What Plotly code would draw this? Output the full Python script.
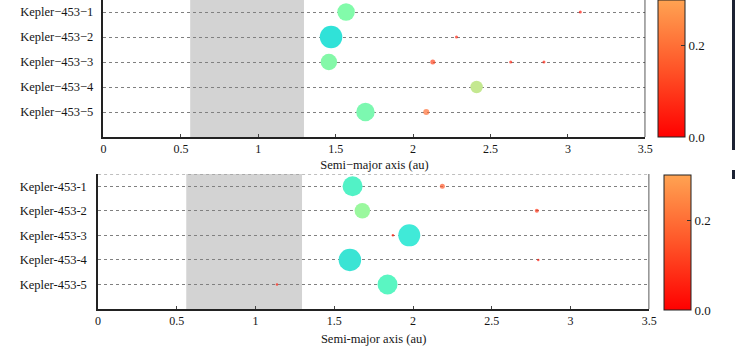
import plotly.graph_objects as go

W, H = 743, 349

# ---------------- data ----------------
rows_top = ["Kepler−453−1", "Kepler−453−2", "Kepler−453−3", "Kepler−453−4", "Kepler−453−5"]
rows_bot = ["Kepler-453-1", "Kepler-453-2", "Kepler-453-3", "Kepler-453-4", "Kepler-453-5"]
row_vals = [5, 4, 3, 2, 1]

# big (habitable-zone) planets
top_big_row = [5, 4, 3, 2, 1]
top_big_a = [1.567, 1.47, 1.456, 2.41, 1.692]
top_big_size = [17.5, 22.5, 16.5, 12.5, 18.5]
top_big_color = ["#82fbaa", "#30e2d8", "#84f8a8", "#c4e890", "#7cf8b0"]

bot_big_row = [5, 4, 3, 2, 1]
bot_big_a = [1.616, 1.678, 1.976, 1.599, 1.838]
bot_big_size = [20, 15.5, 22, 22.5, 20]
bot_big_color = ["#52f2c6", "#9af89e", "#40ead8", "#3ae4d4", "#5af6c2"]

# small planets coloured by eccentricity
top_small_row = [5, 4, 3, 3, 3, 1]
top_small_a = [3.08, 2.28, 2.127, 2.63, 2.845, 2.085]
top_small_e = [0.04, 0.06, 0.12, 0.06, 0.06, 0.2]
top_small_size = [3, 3, 5, 3, 3, 6]

bot_small_row = [5, 4, 3, 2, 1]
bot_small_a = [2.186, 2.786, 1.872, 2.795, 1.136]
bot_small_e = [0.16, 0.1, 0.05, 0.05, 0.05]
bot_small_size = [5, 4, 2.5, 2.5, 2.5]

hz_band = [0.56, 1.295]
x_ticks = [0, 0.5, 1, 1.5, 2, 2.5, 3, 3.5]
x_ticktext = ["0", "0.5", "1", "1.5", "2", "2.5", "3", "3.5"]
cbar_ticks = [0.0, 0.2]
cbar_ticktext = ["0.0", "0.2"]
e_max = 0.3

colorscale = [[0, "#ff0000"], [0.5, "#ff5528"], [1, "#ffa352"]]
FONT = "'Liberation Serif', 'Times New Roman', Times, serif"
TXT = "#151515"

# ---------------- layout geometry ----------------
top_px = dict(x0=102, x1=652, y0=-0.5, y1=137)
bot_px = dict(x0=96.5, x1=656, y0=174, y1=309)


def dom(p):
    return ([p["x0"] / W, p["x1"] / W], [1 - p["y1"] / H, 1 - max(p["y0"], 0) / H])


tx, ty = dom(top_px)
bx, by = dom(bot_px)
top_ymax = 5.5 - (0 - top_px["y0"]) / 25.0

fig = go.Figure()

for (big_row, big_a, big_size, big_color, s_row, s_a, s_e, s_size, xa, ya, cb_x, cb_y0, cb_y1) in [
    (top_big_row, top_big_a, top_big_size, top_big_color, top_small_row, top_small_a, top_small_e,
     top_small_size, "x", "y", 665, 0, 137),
    (bot_big_row, bot_big_a, bot_big_size, bot_big_color, bot_small_row, bot_small_a, bot_small_e,
     bot_small_size, "x2", "y2", 671, 175, 310),
]:
    fig.add_trace(go.Scatter(
        x=big_a, y=big_row, mode="markers", xaxis=xa, yaxis=ya,
        marker=dict(size=big_size, color=big_color, line=dict(width=0), opacity=1),
        showlegend=False, hoverinfo="x+y"))
    fig.add_trace(go.Scatter(
        x=s_a, y=s_row, mode="markers", xaxis=xa, yaxis=ya,
        marker=dict(size=s_size, color=s_e, colorscale=colorscale, cmin=0, cmax=e_max,
                    line=dict(width=0), showscale=True,
                    colorbar=dict(
                        x=cb_x / W, xanchor="left", xpad=0, ypad=0,
                        y=1 - cb_y1 / H, yanchor="bottom",
                        len=(cb_y1 - cb_y0) / H, lenmode="fraction",
                        thickness=27, thicknessmode="pixels",
                        outlinewidth=1, outlinecolor="#222",
                        tickvals=cbar_ticks, ticktext=cbar_ticktext,
                        ticks="inside", ticklen=4, tickcolor="#333",
                        tickfont=dict(family=FONT, size=13, color=TXT),
                    )),
        showlegend=False, hoverinfo="x+y"))

axis_common_x = dict(
    range=[0, 3.5], tickvals=x_ticks, ticktext=x_ticktext, showgrid=False, zeroline=False,
    showline=True, linecolor="#222", linewidth=1.5, ticks="inside", ticklen=3, tickcolor="#444",
    tickfont=dict(family=FONT, size=12, color=TXT),
)
axis_common_y = dict(
    tickvals=row_vals, showgrid=True, gridcolor="#808080", griddash="dot", gridwidth=1,
    zeroline=False, showline=True, linecolor="#222", linewidth=1.5, ticks="",
    tickfont=dict(family=FONT, size=12.5, color=TXT),
)

fig.update_layout(
    width=W, height=H, margin=dict(l=0, r=0, t=0, b=0),
    paper_bgcolor="white", plot_bgcolor="white",
    xaxis=dict(domain=tx, anchor="y", **axis_common_x,
               title=dict(text="Semi−major axis (au)", standoff=5,
                          font=dict(family=FONT, size=12.5, color=TXT))),
    yaxis=dict(domain=ty, anchor="x", range=[0, top_ymax], ticktext=rows_top,
               ticklabelstandoff=6, **axis_common_y),
    xaxis2=dict(domain=bx, anchor="y2", **axis_common_x,
                title=dict(text="Semi-major axis (au)", standoff=7,
                           font=dict(family=FONT, size=12.5, color=TXT))),
    yaxis2=dict(domain=by, anchor="x2", range=[0, 5.5], ticktext=rows_bot,
                ticklabelstandoff=7, **axis_common_y),
)

# habitable-zone band, right border and dotted top border for both panels
for xr, yr, ymax in [("x", "y", top_ymax), ("x2", "y2", 5.5)]:
    fig.add_shape(type="rect", xref=xr, yref=yr, x0=hz_band[0], x1=hz_band[1], y0=0, y1=ymax,
                  fillcolor="#d3d3d3", line=dict(width=0), layer="below")
    fig.add_shape(type="line", xref=xr, yref=yr, x0=3.5, x1=3.5, y0=0, y1=ymax,
                  line=dict(color="#222", width=1.5))
    fig.add_shape(type="line", xref=xr, yref=yr, x0=0, x1=3.5, y0=5.5, y1=5.5,
                  line=dict(color="#808080", width=1, dash="dot"))

# dark page-edge artefacts on the right of the picture
fig.add_shape(type="line", xref="paper", yref="paper", x0=741.5 / W, x1=741.5 / W,
              y0=1 - 150 / H, y1=1, line=dict(color="#1c2233", width=3))
fig.add_shape(type="line", xref="paper", yref="paper", x0=741.5 / W, x1=741.5 / W,
              y0=1 - 179 / H, y1=1 - 170 / H, line=dict(color="#1c2233", width=3))

fig.write_html("out.html")
